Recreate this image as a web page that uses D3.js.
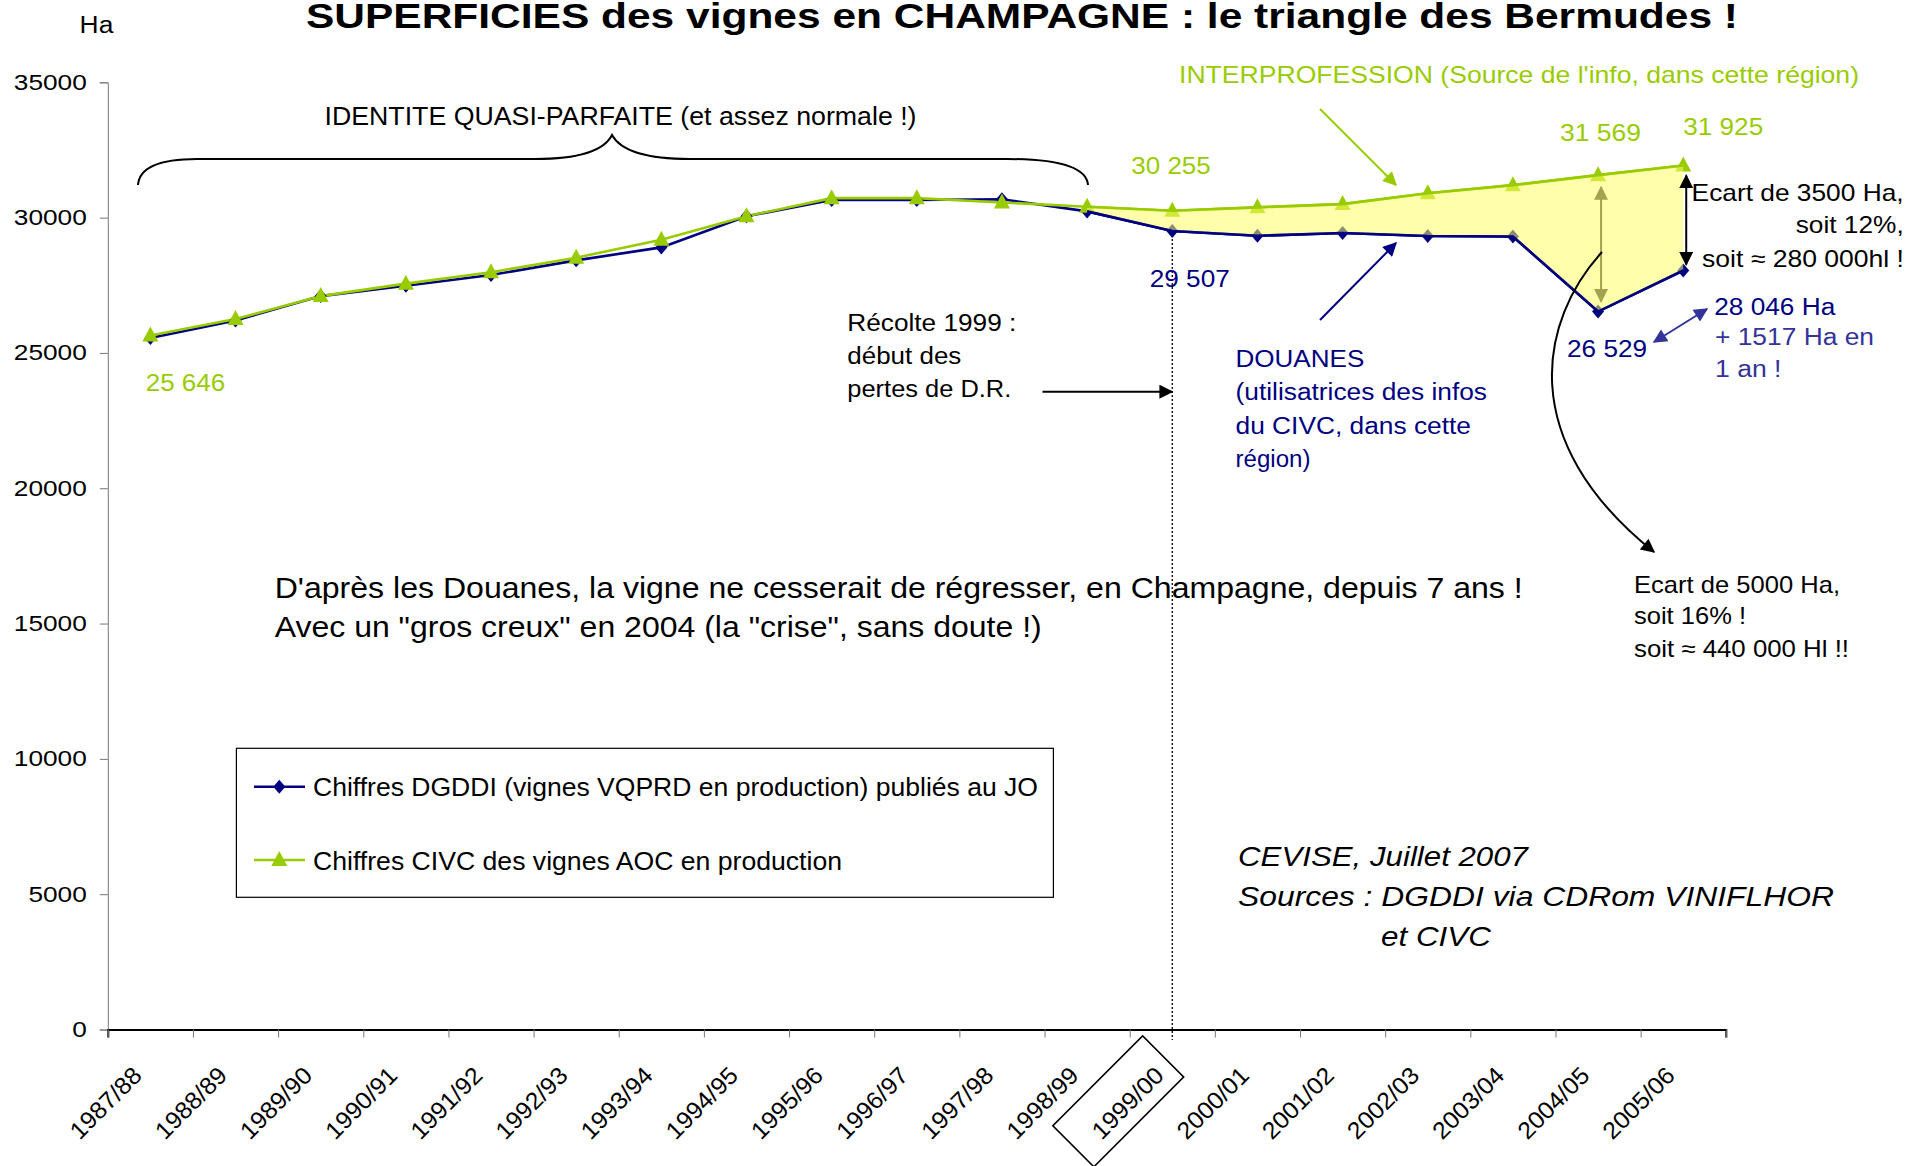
<!DOCTYPE html>
<html>
<head>
<meta charset="utf-8">
<script src="https://cdn.jsdelivr.net/npm/d3@7"></script>
<style>
  body { margin: 0; background: #fff; }
  svg { font-family: "Liberation Sans", Arial, sans-serif; }
</style>
</head>
<body>
<script>
// campagnes
const categories = ["1987/88", "1988/89", "1989/90", "1990/91", "1991/92", "1992/93", "1993/94",
  "1994/95", "1995/96", "1996/97", "1997/98", "1998/99", "1999/00", "2000/01", "2001/02",
  "2002/03", "2003/04", "2004/05", "2005/06"];

// Chiffres DGDDI (Douanes)
const dgddi = [25550, 26200, 27100, 27480, 27880, 28420, 28900, 30050, 30650, 30650, 30680,
  30230, 29507, 29330, 29430, 29320, 29300, 26529, 28046];

// Chiffres CIVC (interprofession)
const civc = [25646, 26250, 27100, 27560, 27980, 28520, 29180, 30050, 30720, 30720, 30560,
  30400, 30255, 30380, 30500, 30900, 31200, 31569, 31925];

const yTicks = [0, 5000, 10000, 15000, 20000, 25000, 30000, 35000];

const NAVY = "#000080", GREEN = "#99cc00", BLUE2 = "#333399";

const width = 1908, height = 1166;
const svg = d3.select("body").append("svg").attr("width", width).attr("height", height);

const x = d3.scaleBand().domain(categories).range([107.8, 1725.8]);
const xi = d3.scaleLinear().domain([0, categories.length]).range(x.range());
const y = d3.scaleLinear().domain([0, 35000]).range([1029.5, 82.3]);
const cx = (i) => x(categories[i]) + x.bandwidth() / 2;

// fleches
const defs = svg.append("defs");
[["ah-black", "#000"], ["ah-green", GREEN], ["ah-navy", NAVY], ["ah-blue", BLUE2], ["ah-grey", "#333"]]
  .forEach(([id, c]) => {
    defs.append("marker")
      .attr("id", id)
      .attr("viewBox", "0 -5 10 10")
      .attr("refX", 9)
      .attr("refY", 0)
      .attr("markerWidth", 8)
      .attr("markerHeight", 7)
      .attr("markerUnits", "strokeWidth")
      .attr("orient", "auto-start-reverse")
      .append("path")
      .attr("d", "M0,-5L10,0L0,5Z")
      .attr("fill", c);
  });

function label(xp, yp, s, o = {}) {
  const t = svg.append("text")
    .attr("x", xp)
    .attr("y", yp)
    .attr("font-size", o.size || 23)
    .attr("fill", o.color || "#000")
    .text(s);
  if (o.w) t.attr("textLength", o.w).attr("lengthAdjust", "spacingAndGlyphs");
  if (o.bold) t.attr("font-weight", "bold");
  if (o.italic) t.attr("font-style", "italic");
  return t;
}

function arrow(d, marker, color, w, both) {
  const p = svg.append("path")
    .attr("d", d)
    .attr("fill", "none")
    .attr("stroke", color)
    .attr("stroke-width", w)
    .attr("marker-end", `url(#${marker})`);
  if (both) p.attr("marker-start", `url(#${marker})`);
  return p;
}

// axes
svg.append("g")
  .attr("transform", "translate(107.8,0)")
  .call(d3.axisLeft(y).tickValues(yTicks).tickSize(8).tickPadding(13).tickFormat(d3.format("d")))
  .call((g) => g.select(".domain").attr("stroke", "#777"))
  .call((g) => g.selectAll(".tick line").attr("stroke", "#777"))
  .call((g) =>
    g.selectAll("text")
      .attr("font-size", 22)
      .attr("font-family", "Liberation Sans, Arial, sans-serif")
      .attr("fill", "#000")
      .attr("textLength", (d) => String(d).length * 14.6)
      .attr("lengthAdjust", "spacingAndGlyphs"),
  );

svg.append("g")
  .attr("transform", `translate(0,${y(0)})`)
  .call(d3.axisBottom(xi).tickValues(d3.range(categories.length + 1)).tickSize(8).tickFormat(""))
  .call((g) => g.select(".domain").attr("stroke", "#000").attr("stroke-width", 2))
  .call((g) => g.selectAll(".tick line").attr("stroke", "#777"));

const xl = svg.append("g")
  .selectAll("g")
  .data(categories)
  .join("g")
  .attr("transform", (d) => `translate(${x(d) + x.bandwidth() / 2 - 7},1077) rotate(-45)`);
xl.append("text")
  .attr("text-anchor", "end")
  .attr("font-size", 24)
  .attr("textLength", 90)
  .attr("lengthAdjust", "spacingAndGlyphs")
  .text((d) => d);
xl.filter((d) => d === "1999/00")
  .append("rect")
  .attr("x", -114)
  .attr("y", -45)
  .attr("width", 127)
  .attr("height", 58)
  .attr("fill", "none")
  .attr("stroke", "#000")
  .attr("stroke-width", 1.6);

// ligne pointillee 1999
svg.append("line")
  .attr("x1", cx(12)).attr("x2", cx(12))
  .attr("y1", y(dgddi[12])).attr("y2", 1040)
  .attr("stroke", "#000")
  .attr("stroke-width", 1.3)
  .attr("stroke-dasharray", "2,2");

// series
const idx = d3.range(categories.length);
const lineD = d3.line().x((i) => cx(i)).y((i) => y(dgddi[i]));
const lineC = d3.line().x((i) => cx(i)).y((i) => y(civc[i]));

svg.append("path").attr("d", lineD(idx)).attr("fill", "none").attr("stroke", NAVY).attr("stroke-width", 2.6);
svg.append("path").attr("d", lineC(idx)).attr("fill", "none").attr("stroke", GREEN).attr("stroke-width", 2.6);

svg.append("g")
  .selectAll("path")
  .data(idx)
  .join("path")
  .attr("transform", (i) => `translate(${cx(i)},${y(dgddi[i])})`)
  .attr("d", "M0,-7L6,0L0,7L-6,0Z")
  .attr("fill", NAVY);

svg.append("g")
  .selectAll("path")
  .data(idx)
  .join("path")
  .attr("transform", (i) => `translate(${cx(i)},${y(civc[i])})`)
  .attr("d", "M0,-9L8,6L-8,6Z")
  .attr("fill", GREEN);

// ecart 2004/05 (sous la zone)
arrow(`M${cx(17) + 3},${y(civc[17]) + 12}L${cx(17) + 3},${y(dgddi[17]) - 10}`, "ah-grey", "#333", 2, true);

// zone jaune
const gap = d3.range(11, categories.length);
const area = d3.area().x((i) => cx(i)).y0((i) => y(dgddi[i])).y1((i) => y(civc[i]));
svg.append("path").attr("d", area(gap)).attr("fill", "#ffff66").attr("fill-opacity", 0.55);
svg.append("path").attr("d", lineD(gap)).attr("fill", "none").attr("stroke", NAVY).attr("stroke-width", 2.6);
svg.append("path").attr("d", lineC(gap)).attr("fill", "none").attr("stroke", GREEN).attr("stroke-width", 2.6);

// ecart 2005/06
arrow(`M${cx(18) + 3},${y(civc[18]) + 10}L${cx(18) + 3},${y(dgddi[18]) - 6}`, "ah-black", "#000", 2, true);

// titre
label(306, 28.3, "SUPERFICIES des vignes en CHAMPAGNE : le triangle des Bermudes !", { size: 35, bold: true, w: 1432 });
label(79.6, 33.3, "Ha", { w: 33.7 });

// accolade
svg.append("path")
  .attr("d", "M138,185Q140,159 197,159L535,159Q600,159 612,135Q625,159 690,159L1007,159Q1086,159 1088,185")
  .attr("fill", "none")
  .attr("stroke", "#000")
  .attr("stroke-width", 2);
label(324.5, 124.5, "IDENTITE QUASI-PARFAITE (et assez normale !)", { size: 25, w: 592 });

// valeurs
label(cx(0) - 4.7, y(civc[0]) + 55.5, "25 646", { color: GREEN, w: 79.6 });
label(cx(12) - 41, y(civc[12]) - 37, "30 255", { color: GREEN, w: 79.5 });
label(cx(12) - 22.5, y(dgddi[12]) + 56, "29 507", { color: NAVY, w: 80 });
label(cx(17) - 38, y(civc[17]) - 34, "31 569", { color: GREEN, w: 81 });
label(cx(18), y(civc[18]) - 30.6, "31 925", { color: GREEN, w: 80 });
label(cx(17) - 31, y(dgddi[17]) + 45, "26 529", { color: NAVY, w: 80 });
label(cx(18) + 31, y(dgddi[18]) + 45, "28 046 Ha", { color: NAVY, w: 121 });
label(1715, 345, "+ 1517 Ha en", { color: BLUE2, w: 159 });
label(1715, 376.7, "1 an !", { color: BLUE2, w: 66.5 });
arrow("M1654,342L1707,309", "ah-blue", BLUE2, 2, true);

// interprofession
label(1179, 82.7, "INTERPROFESSION (Source de l'info, dans cette région)", { size: 24, color: GREEN, w: 680 });
arrow("M1320,109L1396,185", "ah-green", GREEN, 2);

// douanes
[["DOUANES", 128.8], ["(utilisatrices des infos", 251.5], ["du CIVC, dans cette", 235.5], ["région)", 75]]
  .forEach(([s, w], k) => label(1235.5, 367 + k * 33.3, s, { color: NAVY, w }));
arrow("M1320,320L1396,243", "ah-navy", NAVY, 2);

// recolte 1999
[["Récolte 1999 :", 169], ["début des", 114], ["pertes de D.R.", 164]]
  .forEach(([s, w], k) => label(847.3, 330.7 + k * 33.3, s, { w }));
arrow("M1042.5,391.7L1172,391.7", "ah-black", "#000", 2);

// ecarts
label(1691.6, 200.7, "Ecart de 3500 Ha,", { size: 24, w: 212 });
label(1795.7, 233.3, "soit 12%,", { size: 24, w: 108 });
label(1702, 267.3, "soit ≈ 280 000hl !", { size: 24, w: 202 });

label(1634, 592.7, "Ecart de 5000 Ha,", { size: 24, w: 206 });
label(1634, 624.3, "soit 16% !", { size: 24, w: 112 });
label(1634, 656.7, "soit ≈ 440 000 Hl !!", { size: 24, w: 215 });
arrow("M1602,252C1540,320 1514,440 1654,552", "ah-black", "#000", 2);

// commentaire
label(274.7, 598, "D'après les Douanes, la vigne ne cesserait de régresser, en Champagne, depuis 7 ans !", { size: 30, w: 1248 });
label(274.7, 637, "Avec un \"gros creux\" en 2004 (la \"crise\", sans doute !)", { size: 30, w: 767 });

// legende
svg.append("rect")
  .attr("x", 236.4).attr("y", 748.3)
  .attr("width", 817).attr("height", 149)
  .attr("fill", "#fff")
  .attr("stroke", "#000")
  .attr("stroke-width", 1.2);
const legend = [
  { name: "Chiffres DGDDI (vignes VQPRD en production) publiés au JO", color: NAVY, sym: "M0,-7L6,0L0,7L-6,0Z", w: 725, yy: 786.7 },
  { name: "Chiffres CIVC des vignes AOC en production", color: GREEN, sym: "M0,-9L8,6L-8,6Z", w: 529, yy: 860 },
];
legend.forEach((l) => {
  svg.append("line").attr("x1", 254).attr("x2", 305).attr("y1", l.yy).attr("y2", l.yy)
    .attr("stroke", l.color).attr("stroke-width", 2.6);
  svg.append("path").attr("transform", `translate(279.3,${l.yy})`).attr("d", l.sym).attr("fill", l.color);
  label(313, l.yy + 9.5, l.name, { size: 25, w: l.w });
});

// sources
label(1238, 866, "CEVISE, Juillet 2007", { size: 28, italic: true, w: 290 });
label(1238, 906, "Sources : DGDDI via CDRom VINIFLHOR", { size: 28, italic: true, w: 596 });
label(1381, 946, "et CIVC", { size: 28, italic: true, w: 110 });
</script>
</body>
</html>
